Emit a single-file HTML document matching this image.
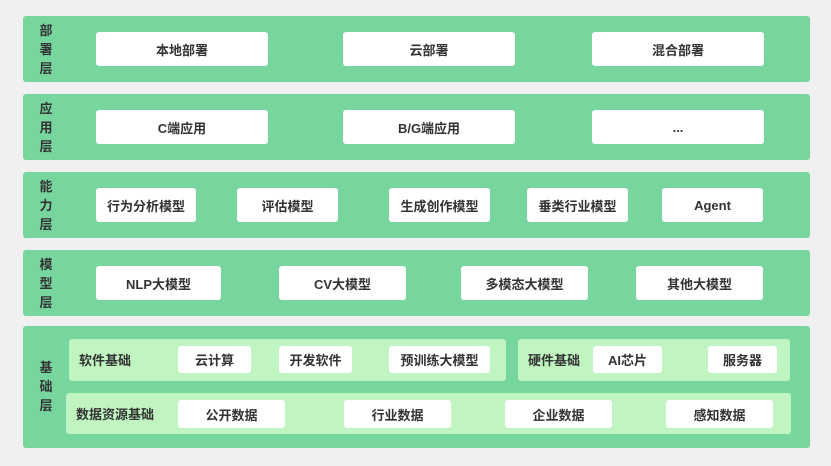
<!DOCTYPE html>
<html><head><meta charset="utf-8"><style>
*{margin:0;padding:0;box-sizing:border-box}
body{width:831px;height:466px;background:#f0f0f0;position:relative;overflow:hidden;font-family:"Liberation Sans","Noto Sans CJK SC",sans-serif;color:#333;font-weight:bold}
.l{position:absolute;left:23px;width:787px;background:#77d59e;border-radius:3px}
.t{position:absolute;left:36px;width:20px;font-size:13px;line-height:19px;text-align:center;color:#333}
.b{position:absolute;background:#fff;border-radius:3px;display:flex;align-items:center;justify-content:center;font-size:13px;color:#333}
.s{position:absolute;background:#c0f4c0;border-radius:3px}
.sl{position:absolute;font-size:13px;line-height:16px}
</style></head><body>
<div class="l" style="top:16px;height:66px"></div>
<div class="t" style="top:21px">部<br>署<br>层</div>
<div class="b" style="left:96px;top:32px;width:172px;height:34px">本地部署</div>
<div class="b" style="left:343px;top:32px;width:172px;height:34px">云部署</div>
<div class="b" style="left:592px;top:32px;width:172px;height:34px">混合部署</div>

<div class="l" style="top:94px;height:66px"></div>
<div class="t" style="top:99px">应<br>用<br>层</div>
<div class="b" style="left:96px;top:110px;width:172px;height:34px">C端应用</div>
<div class="b" style="left:343px;top:110px;width:172px;height:34px">B/G端应用</div>
<div class="b" style="left:592px;top:110px;width:172px;height:34px">...</div>

<div class="l" style="top:172px;height:66px"></div>
<div class="t" style="top:177px">能<br>力<br>层</div>
<div class="b" style="left:96px;top:188px;width:100px;height:34px">行为分析模型</div>
<div class="b" style="left:237px;top:188px;width:101px;height:34px">评估模型</div>
<div class="b" style="left:389px;top:188px;width:101px;height:34px">生成创作模型</div>
<div class="b" style="left:527px;top:188px;width:101px;height:34px">垂类行业模型</div>
<div class="b" style="left:662px;top:188px;width:101px;height:34px">Agent</div>

<div class="l" style="top:250px;height:66px"></div>
<div class="t" style="top:255px">模<br>型<br>层</div>
<div class="b" style="left:96px;top:266px;width:125px;height:34px">NLP大模型</div>
<div class="b" style="left:279px;top:266px;width:127px;height:34px">CV大模型</div>
<div class="b" style="left:461px;top:266px;width:127px;height:34px">多模态大模型</div>
<div class="b" style="left:636px;top:266px;width:127px;height:34px">其他大模型</div>

<div class="l" style="top:326px;height:122px"></div>
<div class="t" style="top:358px">基<br>础<br>层</div>
<div class="s" style="left:69px;top:339px;width:437px;height:42px"></div>
<div class="sl" style="left:79px;top:353px">软件基础</div>
<div class="b" style="left:178px;top:346px;width:73px;height:27px">云计算</div>
<div class="b" style="left:279px;top:346px;width:73px;height:27px">开发软件</div>
<div class="b" style="left:389px;top:346px;width:101px;height:27px">预训练大模型</div>
<div class="s" style="left:518px;top:339px;width:272px;height:42px"></div>
<div class="sl" style="left:528px;top:353px">硬件基础</div>
<div class="b" style="left:593px;top:346px;width:69px;height:27px">AI芯片</div>
<div class="b" style="left:708px;top:346px;width:69px;height:27px">服务器</div>
<div class="s" style="left:66px;top:393px;width:725px;height:41px"></div>
<div class="sl" style="left:76px;top:407px">数据资源基础</div>
<div class="b" style="left:178px;top:400px;width:107px;height:28px">公开数据</div>
<div class="b" style="left:344px;top:400px;width:107px;height:28px">行业数据</div>
<div class="b" style="left:505px;top:400px;width:107px;height:28px">企业数据</div>
<div class="b" style="left:666px;top:400px;width:107px;height:28px">感知数据</div>
</body></html>
